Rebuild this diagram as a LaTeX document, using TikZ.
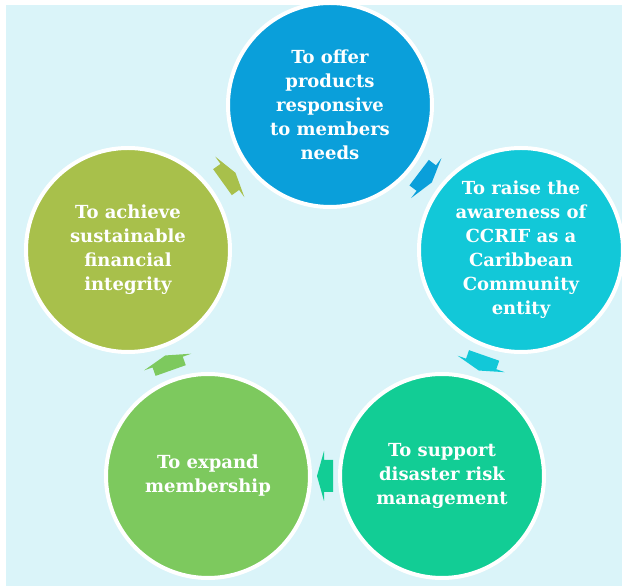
\documentclass[tikz,border=0pt]{standalone}
\usepackage{fontspec}
\setmainfont{DejaVu Serif}
\usepackage{tikz}
\usetikzlibrary{calc}

\definecolor{bgcyan}{RGB}{218,244,249}
\definecolor{cOffer}{RGB}{10,159,218}
\definecolor{cRaise}{RGB}{18,200,216}
\definecolor{cSupport}{RGB}{18,205,149}
\definecolor{cExpand}{RGB}{125,201,94}
\definecolor{cAchieve}{RGB}{168,192,75}

\tikzset{goal/.style={circle, draw=white, line width=4pt, minimum size=204pt, inner sep=0pt,
  align=center, text=white, font=\bfseries\fontsize{18}{24}\selectfont}}

\begin{document}
\begin{tikzpicture}[x=1pt,y=1pt]
\useasboundingbox (0,0) rectangle (622,586);
\fill[bgcyan] (6,0) rectangle (622,581);

\node[goal, fill=cOffer] (offer) at (330,481) {To offer\\products\\responsive\\to members\\needs};
\node[goal, fill=cRaise] (raise) at (521,336) {To raise the\\awareness of\\CCRIF as a\\Caribbean\\Community\\entity};
\node[goal, fill=cSupport] (support) at (442,110) {To support\\disaster risk\\management};
\node[goal, fill=cExpand] (expand) at (208,110) {To expand\\membership};
\node[goal, fill=cAchieve] (achieve) at (128,336) {To achieve\\sustainable\\financial\\integrity};

\foreach \a/\b/\c in {offer/raise/cOffer, raise/support/cRaise, support/expand/cSupport, expand/achieve/cExpand, achieve/offer/cAchieve}{
  \pgfmathanglebetweenpoints{\pgfpointanchor{\a}{center}}{\pgfpointanchor{\b}{center}}
  \let\ang\pgfmathresult
  \fill[\c, shift={($(\a)!0.5!(\b)$)}, rotate=\ang]
    (-8,-16) -- (1,-16) -- (1,-25) -- (8,0) -- (1,25) -- (1,16) -- (-8,16) -- cycle;
}
\end{tikzpicture}
\end{document}
